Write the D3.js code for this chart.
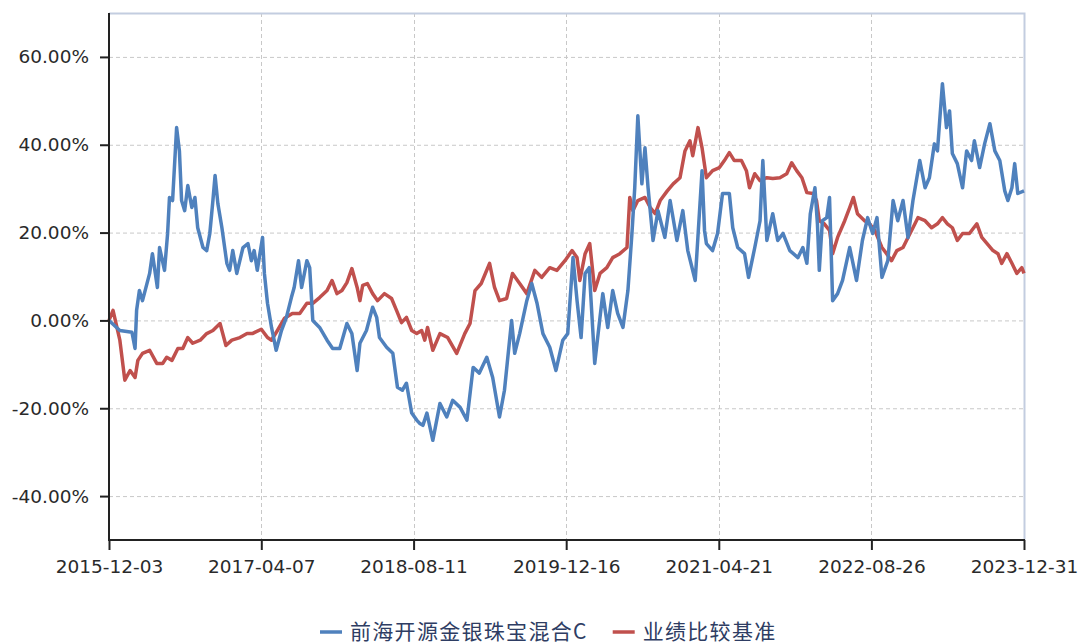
<!DOCTYPE html>
<html>
<head>
<meta charset="utf-8">
<script src="https://cdn.jsdelivr.net/npm/d3@7"></script>
<style>
  body { margin: 0; background: #fff; }
  .tick text { font-family: "DejaVu Sans", sans-serif; }
</style>
</head>
<body>
<script>
// series names
var seriesNames = ["前海开源金银珠宝混合C", "业绩比较基准"];
var seriesColors = ["#4f81bd", "#c0504d"];

// x tick labels
var xTicks = ["2015-12-03", "2017-04-07", "2018-08-11", "2019-12-16", "2021-04-21", "2022-08-26", "2023-12-31"];
// y tick values (%)
var yTicks = [-40, -20, 0, 20, 40, 60];

// fund cumulative return (%)
var fundDates = ["2015-12-03","2016-01-07","2016-02-15","2016-02-25","2016-03-01","2016-03-10","2016-03-20","2016-04-12","2016-04-21","2016-05-07",
  "2016-05-14","2016-05-30","2016-06-09","2016-06-15","2016-06-25","2016-07-08","2016-07-17","2016-07-24","2016-08-03","2016-08-13",
  "2016-08-26","2016-09-05","2016-09-14","2016-10-01","2016-10-13","2016-10-23","2016-11-02","2016-11-09","2016-11-18","2016-12-01",
  "2016-12-17","2016-12-26","2017-01-05","2017-01-18","2017-02-07","2017-02-23","2017-03-06","2017-03-15","2017-03-25","2017-04-11",
  "2017-04-17","2017-04-27","2017-05-10","2017-05-25","2017-06-11","2017-06-27","2017-07-13","2017-07-22","2017-08-05","2017-08-15",
  "2017-08-24","2017-09-01","2017-09-10","2017-09-20","2017-10-12","2017-11-05","2017-11-23","2017-12-16","2018-01-08","2018-01-24",
  "2018-02-10","2018-02-19","2018-03-12","2018-04-01","2018-04-14","2018-04-23","2018-05-16","2018-06-05","2018-06-20","2018-07-06",
  "2018-07-19","2018-08-05","2018-08-21","2018-08-30","2018-09-10","2018-09-23","2018-10-12","2018-11-04","2018-11-26","2018-12-15",
  "2019-01-08","2019-01-30","2019-02-19","2019-03-11","2019-04-04","2019-04-23","2019-05-15","2019-05-31","2019-06-23","2019-07-03",
  "2019-07-19","2019-08-11","2019-08-27","2019-09-13","2019-10-02","2019-10-24","2019-11-13","2019-12-05","2019-12-21","2020-01-07",
  "2020-01-20","2020-02-02","2020-02-15","2020-02-28","2020-03-17","2020-04-03","2020-04-12","2020-04-28","2020-05-14","2020-05-30",
  "2020-06-16","2020-07-02","2020-07-15","2020-07-24","2020-08-03","2020-08-16","2020-08-26","2020-09-05","2020-09-21","2020-10-07",
  "2020-10-29","2020-11-15","2020-12-07","2020-12-26","2021-01-11","2021-02-04","2021-02-26","2021-03-06","2021-03-12","2021-04-01",
  "2021-04-17","2021-05-03","2021-05-25","2021-06-05","2021-06-21","2021-07-13","2021-07-26","2021-08-15","2021-09-01","2021-09-10",
  "2021-09-23","2021-10-12","2021-10-28","2021-11-14","2021-12-06","2022-01-01","2022-01-17","2022-01-30","2022-02-10","2022-02-25",
  "2022-03-05","2022-03-11","2022-03-21","2022-04-04","2022-04-13","2022-04-23","2022-05-09","2022-05-25","2022-06-17","2022-07-09",
  "2022-07-28","2022-08-14","2022-08-30","2022-09-13","2022-09-29","2022-10-18","2022-11-04","2022-11-19","2022-12-06","2022-12-22",
  "2023-01-07","2023-01-29","2023-02-15","2023-03-01","2023-03-17","2023-03-27","2023-04-12","2023-04-25","2023-05-05","2023-05-14",
  "2023-05-30","2023-06-16","2023-06-29","2023-07-15","2023-07-24","2023-08-10","2023-08-26","2023-09-12","2023-09-28","2023-10-14",
  "2023-10-30","2023-11-09","2023-11-22","2023-12-01","2023-12-11","2023-12-31"];
var fundValues = [0,-2.3,-2.7,-6.4,2.3,6.8,4.5,10.7,15.2,7.5,
  16.6,11.4,19.8,28,27.3,43.9,38.6,27.3,25,30.7,
  25.7,28,21.1,16.6,15.9,19.8,27.3,33,26.6,21.1,
  13,11.4,15.9,10.7,16.6,17.5,13.6,15.9,11.4,18.9,
  10.7,3.9,-1.6,-6.8,-2.3,0.7,5.2,7.5,13.6,7.5,
  10.7,13.6,12,0,-1.6,-4.5,-6.4,-6.4,-0.7,-3,
  -11.4,-5.2,-2.3,3,0.7,-3.9,-6.1,-7.5,-15.2,-15.9,
  -14.3,-21.1,-22.7,-23.4,-23.9,-21.1,-27.3,-18.9,-22,-18.2,
  -19.8,-22.7,-10.7,-12,-8.4,-13,-22,-15.9,0,-7.5,
  -3,4.5,8.4,3.9,-3,-6.1,-11.4,-4.5,-3,14.3,
  4.5,-3.9,10.7,12,-9.8,0.7,6.1,-1.6,6.8,1.6,
  -1.6,6.8,19.8,30.2,46.6,31.1,39.3,30.2,18.2,25,
  18.9,27.3,18.2,25,15.9,9.1,34.1,20.5,17.5,15.9,
  19.8,28.9,28.9,21.1,16.6,15.2,9.8,16.6,22.7,36.4,
  18.2,24.3,18.2,19.8,15.9,14.3,16.6,13,24.3,30.2,
  22,11.4,22.7,23.4,28,4.5,6.1,9.1,16.6,9.1,
  18.2,23.4,19.8,23.4,9.8,13.6,27.3,22.7,27.3,18.9,
  27.3,36.4,30.2,32.5,40.2,38.6,53.9,43.9,47.7,38,
  35.7,30.2,38.6,36.4,40.9,34.8,40.2,44.8,38.6,36.4,
  29.5,27.3,30.2,35.7,28.9,29.5];

// benchmark cumulative return (%)
var benchDates = ["2015-12-03","2015-12-16","2016-01-07","2016-01-23","2016-02-09","2016-02-25","2016-03-05","2016-03-20","2016-04-12","2016-05-05",
  "2016-05-24","2016-06-06","2016-06-23","2016-07-12","2016-07-28","2016-08-13","2016-08-29","2016-09-22","2016-10-13","2016-11-02",
  "2016-11-25","2016-12-14","2017-01-02","2017-01-28","2017-02-20","2017-03-09","2017-04-07","2017-04-27","2017-05-10","2017-05-29",
  "2017-06-21","2017-07-16","2017-08-09","2017-09-01","2017-09-20","2017-10-12","2017-11-05","2017-11-21","2017-12-07","2017-12-23",
  "2018-01-08","2018-01-24","2018-02-10","2018-02-19","2018-02-28","2018-03-15","2018-04-01","2018-04-17","2018-05-09","2018-06-01",
  "2018-06-17","2018-07-03","2018-07-19","2018-08-05","2018-08-21","2018-09-06","2018-09-16","2018-09-25","2018-10-12","2018-11-04",
  "2018-11-29","2018-12-28","2019-01-23","2019-02-09","2019-02-25","2019-03-17","2019-04-13","2019-04-29","2019-05-15","2019-06-07",
  "2019-06-26","2019-07-19","2019-08-11","2019-09-06","2019-09-28","2019-10-24","2019-11-16","2019-12-12","2020-01-04","2020-01-20",
  "2020-01-29","2020-02-15","2020-03-01","2020-03-17","2020-04-03","2020-04-25","2020-05-14","2020-06-06","2020-06-29","2020-07-08",
  "2020-07-18","2020-08-03","2020-08-26","2020-09-12","2020-09-28","2020-10-14","2020-11-06","2020-11-25","2020-12-17","2021-01-02",
  "2021-01-18","2021-01-27","2021-02-13","2021-02-26","2021-03-12","2021-04-01","2021-04-23","2021-05-09","2021-05-25","2021-06-10",
  "2021-07-03","2021-07-19","2021-07-29","2021-08-15","2021-09-01","2021-09-23","2021-10-12","2021-11-04","2021-11-26","2021-12-12",
  "2021-12-28","2022-01-14","2022-01-30","2022-02-19","2022-03-02","2022-03-11","2022-03-27","2022-04-13","2022-04-23","2022-05-09",
  "2022-06-01","2022-06-17","2022-06-29","2022-07-12","2022-08-04","2022-08-20","2022-09-06","2022-09-29","2022-10-14","2022-10-30",
  "2022-11-16","2022-12-06","2022-12-22","2023-01-07","2023-01-23","2023-02-15","2023-03-08","2023-03-27","2023-04-12","2023-04-28",
  "2023-05-14","2023-05-30","2023-06-16","2023-07-08","2023-08-01","2023-08-17","2023-09-03","2023-09-22","2023-10-08","2023-10-20",
  "2023-11-06","2023-11-22","2023-12-08","2023-12-24","2023-12-31"];
var benchValues = [0,2.3,-4.5,-13.6,-11.4,-13,-9.1,-7.5,-6.8,-9.8,
  -9.8,-8.4,-9.1,-6.4,-6.4,-3.9,-5.2,-4.5,-3,-2.3,
  -0.7,-5.7,-4.5,-3.9,-3,-3,-2,-3.9,-4.5,-2.3,
  0.5,1.6,1.6,3.9,3.9,5.2,6.8,9.1,6.1,6.8,
  8.6,11.8,7.5,4.5,8,8.4,6.1,4.5,6.1,5,
  2.3,-0.5,0.7,-2.3,-3,-2.3,-4.5,-1.6,-6.8,-3,
  -3.9,-7.5,-3,-0.7,6.8,8.4,13,7.5,4.5,5,
  10.7,8.4,6.1,11.4,9.8,12,11.4,13.6,15.9,14.3,
  9.1,15.2,17.5,6.8,10.7,12,14.3,15.2,16.6,28,
  25,27.3,28,25.7,24.3,27.3,29.5,31.1,32.5,38.6,
  40.9,37.5,43.9,39.3,32.5,34.1,34.8,36.4,38.2,36.4,
  36.4,34.1,30.2,33.4,31.8,32.5,32.3,32.5,33.4,35.9,
  34.1,32.5,29.1,28.9,27.3,22.7,22,20.5,15.2,18.9,
  22.7,25.7,28,24.3,22.7,22,20.5,16.6,15.2,13.6,
  15.9,16.6,18.9,21.1,23.4,22.7,21.1,22,23.4,22,
  21.1,18.2,19.8,19.8,22,18.9,17.5,15.9,15.2,13,
  15.2,13,10.7,12,10.7];

function init() {
    var W = 1085, H = 644;
    var left = 109, right = 1024, top = 13, bottom = 540;

    var svg = d3.select("body").append("svg")
                .attr("width", W)
                .attr("height", H);

    var parse = d3.timeParse("%Y-%m-%d");

    var x = d3.scaleTime()
              .domain([parse(xTicks[0]), parse(xTicks[xTicks.length - 1])])
              .range([left, right]);
    var y = d3.scaleLinear()
              .domain([-50, 70])
              .range([bottom, top]);

    // grid lines
    var grid = svg.append("g").attr("stroke", "#c8c8c8").attr("stroke-dasharray", "4,3").attr("stroke-width", 1);
    grid.selectAll("line.h")
        .data(yTicks)
        .enter().append("line")
        .attr("x1", left).attr("x2", right)
        .attr("y1", d => y(d) + 0.5).attr("y2", d => y(d) + 0.5);
    grid.selectAll("line.v")
        .data(xTicks.slice(1, -1))
        .enter().append("line")
        .attr("x1", d => Math.round(x(parse(d))) + 0.5).attr("x2", d => Math.round(x(parse(d))) + 0.5)
        .attr("y1", top).attr("y2", bottom);

    // light frame on top and right
    svg.append("path")
       .attr("d", `M${left},${top + 0.5}H${right + 0.5}V${bottom}`)
       .attr("fill", "none")
       .attr("stroke", "#c3cde0")
       .attr("stroke-width", 2);

    // lines
    var line = d3.line()
                 .x(d => x(d[0]))
                 .y(d => y(d[1]));
    var series = [
        d3.zip(benchDates.map(parse), benchValues),
        d3.zip(fundDates.map(parse), fundValues)
    ];
    var order = [1, 0];
    svg.selectAll("path.series")
       .data(series)
       .enter().append("path")
       .attr("class", "series")
       .attr("d", line)
       .attr("fill", "none")
       .attr("stroke", (d, i) => seriesColors[order[i]])
       .attr("stroke-width", 3.5)
       .attr("stroke-linejoin", "round");

    // axes
    var xAxis = d3.axisBottom(x)
                  .tickValues(xTicks.map(parse))
                  .tickFormat(d3.timeFormat("%Y-%m-%d"))
                  .tickSizeOuter(0)
                  .tickSize(10)
                  .tickPadding(10);
    var gx = svg.append("g")
                .attr("transform", `translate(0,${bottom})`)
                .call(xAxis);

    var yAxis = d3.axisLeft(y)
                  .tickValues(yTicks)
                  .tickFormat(d => d.toFixed(2) + "%")
                  .tickSizeOuter(0)
                  .tickSize(9)
                  .tickPadding(11);
    var gy = svg.append("g")
                .attr("transform", `translate(${left},0)`)
                .call(yAxis);

    [gx, gy].forEach(function(g) {
        g.select(".domain").attr("stroke", "#222").attr("stroke-width", 2);
        g.selectAll(".tick line").attr("stroke", "#222").attr("stroke-width", 2);
        g.selectAll(".tick text")
         .attr("fill", "#2a2a2a")
         .style("font-size", "18.5px");
    });
    gy.select(".domain").attr("d", `M0,${top}V${bottom + 1}`);
    gx.select(".domain").attr("d", `M${left - 1},0H${right + 1}`);

    // legend
    var legend = svg.append("g").attr("transform", "translate(0,631)");
    var lx = 320;
    seriesNames.forEach(function(name, i) {
        legend.append("line")
              .attr("x1", lx).attr("x2", lx + 22)
              .attr("y1", 1).attr("y2", 1)
              .attr("stroke", seriesColors[i])
              .attr("stroke-width", 3.5);
        var t = legend.append("text")
                      .attr("x", lx + 30)
                      .attr("y", 0)
                      .attr("dy", "0.36em")
                      .attr("fill", "#2e3d63")
                      .style("font-family", "'Noto Sans CJK SC', sans-serif")
                      .style("font-size", "21px")
                      .style("letter-spacing", "1.3px")
                      .text(name);
        lx = lx + 30 + t.node().getComputedTextLength() + 25;
    });
}

window.onload = init;
</script>
</body>
</html>
